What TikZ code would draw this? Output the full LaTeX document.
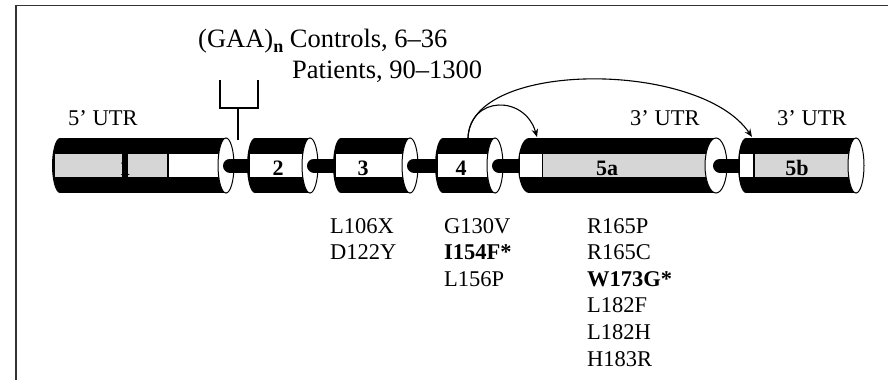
\documentclass[tikz,border=0pt]{standalone}
\usepackage{fontspec}
\setmainfont{Liberation Serif}
\usetikzlibrary{arrows.meta}
\begin{document}
\begin{tikzpicture}[x=1pt,y=-1pt,
  frameline/.style={line width=1.6pt,black!80},
  face/.style={fill=white,draw=black,line width=1pt},
  gband/.style={fill=black!16},
  wband/.style={fill=white},
  intron/.style={line width=14pt,line cap=round,draw=black},
  exnum/.style={font=\fontsize{22}{22}\selectfont\bfseries,inner sep=0pt,anchor=base},
  lbl/.style={font=\fontsize{22.5}{26}\selectfont,inner sep=0pt,anchor=base west},
  toplbl/.style={font=\fontsize{26.5}{30}\selectfont,inner sep=0pt,anchor=base west},
  splice/.style={line width=1.1pt,-{Stealth[length=8pt,width=6.5pt]}},
  bracketline/.style={line width=1.3pt}
]
\useasboundingbox (0,0) rectangle (888,380);
% frame (cropped)
\draw[frameline] (888,5.5) -- (16,5.5) -- (16,380);

% body of an exon: #1 left x, #2 face centre x, #3 x radius
\def\exonbody#1#2#3{%
  \fill[black] (#1+#3,138) rectangle (#2,193);
  \fill[black] (#1+#3,165.5) ellipse [x radius=#3, y radius=27.5];
}
\def\exonface#1#2{%
  \draw[face] (#1,165.5) ellipse [x radius=#2, y radius=27.5];
}

% exon 1
\exonbody{52}{226}{8}
\fill[gband] (55,154) rectangle (122,177);
\fill[gband] (128,154) rectangle (167,177);
\fill[wband] (169,154) rectangle (222,177);
\exonface{226}{8}
\node[exnum] (e1) at (125,175) {1};
\draw[intron] (230,165.5) -- (252,165.5);

% exon 2
\exonbody{247}{310}{8}
\fill[wband] (250,154) rectangle (306,177);
\exonface{310}{8}
\node[exnum] (e2) at (278,175) {2};
\draw[intron] (314,165.5) -- (338,165.5);

% exon 3
\exonbody{333}{410}{8}
\fill[wband] (336,154) rectangle (406,177);
\exonface{410}{8}
\node[exnum] (e3) at (363,175) {3};
\draw[intron] (414,165.5) -- (440,165.5);

% exon 4
\exonbody{435}{495}{8}
\fill[wband] (438,154) rectangle (491,177);
\exonface{495}{8}
\node[exnum] (e4) at (461,175) {4};
\draw[intron] (499,165.5) -- (523,165.5);

% exon 5a
\exonbody{518}{716}{11}
\fill[wband] (520,154) rectangle (542,177);
\fill[gband] (543,154) rectangle (710,177);
\exonface{716}{11}
\node[exnum] (e5a) at (607,175) {5a};
\draw[intron] (720,165.5) -- (743,165.5);

% exon 5b
\exonbody{738}{856}{8}
\fill[wband] (740,154) rectangle (753,177);
\fill[gband] (755,154) rectangle (852,177);
\exonface{856}{8}
\node[exnum] (e5b) at (797,175) {5b};

% UTR labels
\node[lbl] (utr5) at (68,125) {5’ UTR};
\node[lbl] (utr3a) at (630,125) {3’ UTR};
\node[lbl] (utr3b) at (777,125) {3’ UTR};

% GAA repeat bracket
\coordinate (bl) at (220,80);
\coordinate (br) at (258,80);
\coordinate (bstem) at (238,140);
\draw[bracketline] (bl) -- (220,108) -- (258,108) -- (br);
\draw[bracketline] (238,108) -- (bstem);
\node[toplbl] (gaa) at (198,47) {(GAA)\raisebox{-5pt}{\fontsize{18}{18}\selectfont\bfseries n} Controls, 6–36};
\node[toplbl] (pat) at (292,78) {Patients, 90–1300};

% alternative splicing arrows
\coordinate (s4) at (468,138);
\coordinate (t5a) at (537,137);
\coordinate (t5b) at (752,137);
\draw[splice] (s4) .. controls (470,95) and (525,95) .. (t5a);
\draw[splice] (s4) .. controls (470,60) and (700,60) .. (t5b);

% mutations
\foreach \t [count=\i] in {L106X,D122Y}
  \node[lbl] (ma\i) at (330,{233+26.6*(\i-1)}) {\t};
\foreach \t [count=\i] in {G130V,\textbf{I154F*},L156P}
  \node[lbl] (mb\i) at (444,{233+26.6*(\i-1)}) {\t};
\foreach \t [count=\i] in {R165P,R165C,\textbf{W173G*},L182F,L182H,H183R}
  \node[lbl] (mc\i) at (587,{233+26.6*(\i-1)}) {\t};
\end{tikzpicture}
\end{document}
